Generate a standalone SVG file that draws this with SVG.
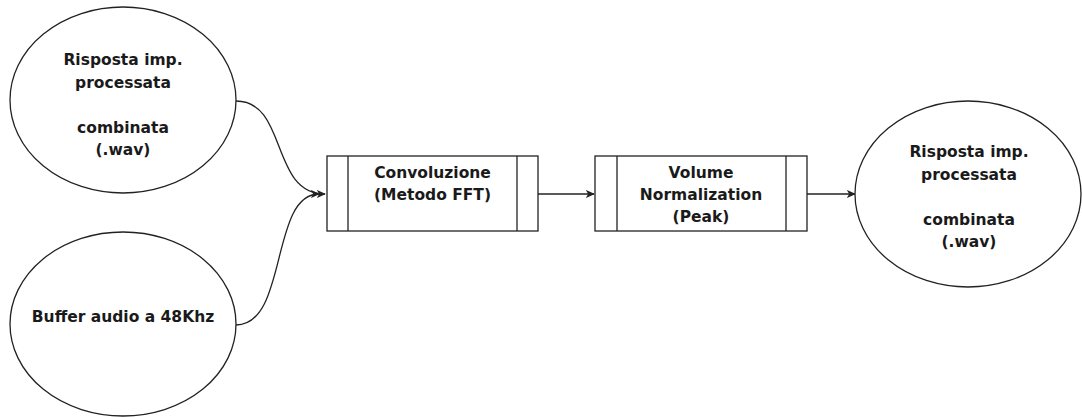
<svg xmlns="http://www.w3.org/2000/svg" width="1082" height="417" viewBox="0 0 1082 417">
<style>
.shape{fill:#fff;stroke:#222;stroke-width:1.3}
.conn{fill:none;stroke:#222;stroke-width:1.3}
text{font-family:"DejaVu Sans","Liberation Sans",sans-serif;font-weight:bold;font-size:15.5px;fill:#1a1a1a;text-anchor:middle}
</style>
<defs>
<marker id="arr" viewBox="0 0 10 10" refX="9" refY="5" markerWidth="9" markerHeight="9" markerUnits="userSpaceOnUse" orient="auto">
<path d="M0,0.5 L10,5 L0,9.5 L2.5,5 Z" fill="#222"/>
</marker>
</defs>
<rect width="1082" height="417" fill="#fff"/>
<g id="connectors">
<path class="conn" d="M236,101 C288,101 270,194 325,194" marker-end="url(#arr)"/>
<path class="conn" d="M236,325 C288,325 270,194 319,194" marker-end="url(#arr)"/>
<path class="conn" d="M538,194 L594,194" marker-end="url(#arr)"/>
<path class="conn" d="M807,194 L855,194" marker-end="url(#arr)"/>
</g>
<g id="src1">
<ellipse class="shape" cx="123" cy="100" rx="113" ry="93"/>
<text x="123" y="65">Risposta imp.</text>
<text x="123" y="87.5">processata</text>
<text x="123" y="132.5">combinata</text>
<text x="123" y="155">(.wav)</text>
</g>
<g id="src2">
<ellipse class="shape" cx="123" cy="324" rx="113" ry="92"/>
<text x="123" y="322">Buffer audio a 48Khz</text>
</g>
<g id="conv">
<rect class="shape" x="327" y="156" width="211" height="75"/>
<line class="conn" x1="348" y1="156" x2="348" y2="231"/>
<line class="conn" x1="517" y1="156" x2="517" y2="231"/>
<text x="432.5" y="178">Convoluzione</text>
<text x="432.5" y="200">(Metodo FFT)</text>
</g>
<g id="norm">
<rect class="shape" x="595" y="156" width="212" height="75"/>
<line class="conn" x1="617" y1="156" x2="617" y2="231"/>
<line class="conn" x1="786" y1="156" x2="786" y2="231"/>
<text x="701" y="178">Volume</text>
<text x="701" y="200">Normalization</text>
<text x="701" y="222">(Peak)</text>
</g>
<g id="out">
<ellipse class="shape" cx="968" cy="194" rx="113" ry="93"/>
<text x="969" y="157">Risposta imp.</text>
<text x="969" y="179.5">processata</text>
<text x="969" y="224.5">combinata</text>
<text x="969" y="247">(.wav)</text>
</g>
</svg>
